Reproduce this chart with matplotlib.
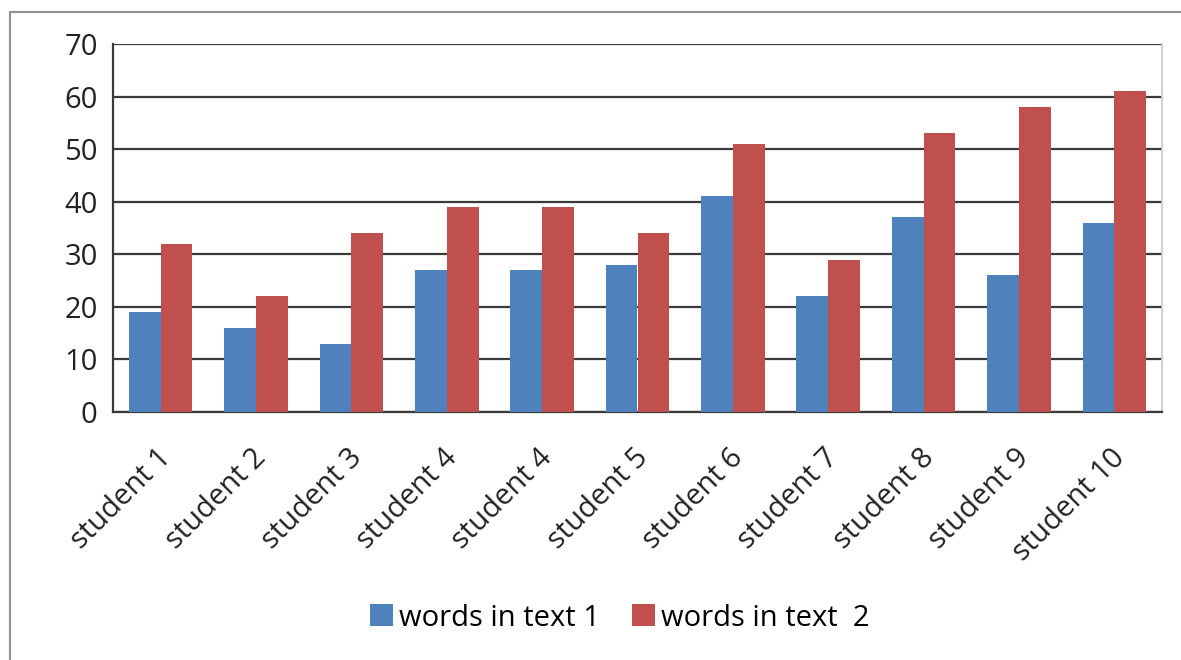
import numpy as np
import matplotlib.pyplot as plt
import matplotlib.transforms as mtransforms
from matplotlib.lines import Line2D

plt.rcParams['font.family'] = ['Open Sans', 'DejaVu Sans']

# words counted per student in the two texts
students = ['student 1', 'student 2', 'student 3', 'student 4', 'student 4',
            'student 5', 'student 6', 'student 7', 'student 8', 'student 9',
            'student 10']
text1_words = [19, 16, 13, 27, 27, 28, 41, 22, 37, 26, 36]
text2_words = [32, 22, 34, 39, 39, 34, 51, 29, 53, 58, 61]

blue = '#4F81BD'
red = '#C0504D'
grid_col = '#3a3a3a'

fig = plt.figure(figsize=(11.81, 6.60), dpi=100)
ax = fig.add_axes([113 / 1181, 1 - 412 / 660, (1162 - 113) / 1181, (412 - 44) / 660])

x = np.arange(len(students))
w = 1 / 3
ax.bar(x - w / 2, text1_words, width=w, color=blue, label='words in text 1', zorder=3)
ax.bar(x + w / 2, text2_words, width=w, color=red, label='words in text  2', zorder=3)

ax.set_xlim(-0.5, len(students) - 0.5)
ax.set_ylim(0, 70)
ax.set_yticks(range(0, 71, 10))
ax.yaxis.grid(True, color=grid_col, lw=1.6, zorder=1)
ax.set_axisbelow(True)

ax.set_xticks(x)
ax.set_xticklabels(students, rotation=45, ha='right', va='center',
                   rotation_mode='anchor')
ax.tick_params(axis='both', length=0, labelsize=21, colors='#222222')
ax.tick_params(axis='y', pad=11)
ax.tick_params(axis='x', pad=30)

# nudge the slanted category labels a little right
shift = mtransforms.ScaledTranslation(6 / 100, 0, fig.dpi_scale_trans)
for lab in ax.get_xticklabels():
    lab.set_transform(lab.get_transform() + shift)

ax.spines['top'].set_visible(False)
ax.spines['right'].set_color('#c8c8c8')
ax.spines['right'].set_linewidth(1.2)
for side in ('left', 'bottom'):
    ax.spines[side].set_color(grid_col)
    ax.spines[side].set_linewidth(1.6)

leg = fig.legend(loc='center', bbox_to_anchor=(0.525, 1 - 618 / 660), ncol=2,
                 frameon=False, fontsize=21, handlelength=0.78, handleheight=0.78,
                 handletextpad=0.22, columnspacing=1.1, borderaxespad=0)

# outer chart frame (left and top edges)
fx, fy = 10 / 1181, 1 - 12 / 660
fig.add_artist(Line2D([fx, fx], [0, fy], transform=fig.transFigure, color='#909090', lw=1.5))
fig.add_artist(Line2D([fx, 1], [fy, fy], transform=fig.transFigure, color='#909090', lw=1.5))

fig.savefig('out.png', dpi=100)
